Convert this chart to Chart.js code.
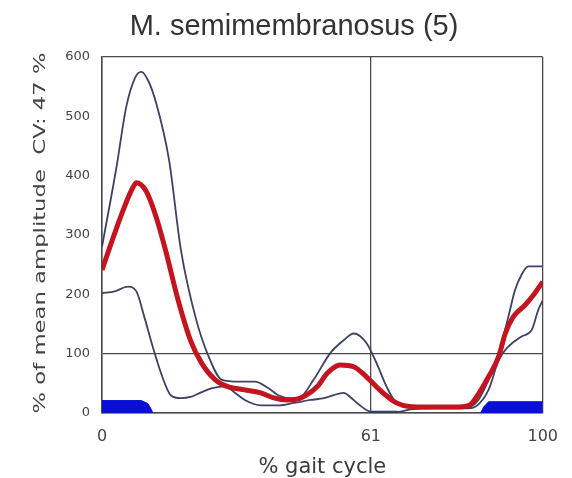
<!DOCTYPE html>
<html>
<head>
<meta charset="utf-8">
<script src="https://cdn.jsdelivr.net/npm/chart.js@4"></script>
<style>
html,body{margin:0;padding:0;background:#fff;}
#wrap{width:572px;height:478px;position:relative;}
</style>
</head>
<body>
<div id="wrap"><canvas id="c" width="572" height="478"></canvas></div>
<script>
const titleText = "M. semimembranosus (5)";
const yTitle = "% of mean amplitude  CV: 47 %";
const xTitle = "% gait cycle";
const xTickValues = [0, 61, 100];
const yTickValues = [0, 100, 200, 300, 400, 500, 600];

const meanX = [0, 1.8, 4.8, 7.0, 7.8, 10, 12.3, 14.5, 17.1, 20.1, 22.6, 25.7, 28.7, 32.4, 36, 39.2, 42.2, 45, 48.9, 51.1, 54, 57.1, 60, 63, 66.8, 69.7, 74, 80, 83.3, 85.5, 87.7, 90, 91.5, 93.3, 96, 98.2, 100];
const meanY = [241, 280, 342, 380, 388, 374, 330, 272, 195, 122, 84, 56, 44, 39, 34, 25, 22, 25, 45, 67, 81, 78, 61, 39, 17, 11, 10, 10, 13, 33, 61, 95, 134, 162, 182, 202, 221];

const upperX = [0, 3.3, 5.5, 7.5, 8.9, 10.5, 12.3, 15.2, 17.9, 21.2, 24.2, 27.2, 31, 34.7, 37.7, 40, 42.8, 45, 48, 51.8, 54.9, 57.1, 60, 62.3, 64.6, 66.8, 69.7, 75, 83, 85.4, 87.7, 90, 92.2, 93.7, 95.2, 96.7, 100];
const upperY = [280, 415, 516, 565, 575, 560, 522, 427, 275, 162, 95, 56, 53, 53, 42, 30, 25, 27, 56, 101, 123, 134, 118, 84, 44, 17, 11, 10, 10, 22, 56, 101, 162, 207, 233, 247, 247];

const lowerX = [0, 2.9, 5.9, 7.8, 9.6, 11.5, 13.4, 15.6, 17.9, 20.1, 22, 25, 28, 30, 32.4, 36, 40, 43.6, 47.3, 50.4, 54.9, 56.3, 58.5, 60, 61, 67, 70, 75, 83, 84.8, 87.7, 90, 92.2, 95.2, 97.5, 99, 100];
const lowerY = [202, 205, 213, 205, 162, 112, 67, 30, 25, 27, 33, 42, 45, 35, 22, 13, 13, 17, 22, 25, 34, 27, 13, 5, 2, 2, 6, 8, 8, 11, 39, 89, 112, 129, 140, 174, 190];

const onset1X = [0, 8.9, 10.4, 11.2, 11.5];
const onset1Y = [21, 21, 16, 6, 0];
const onset2X = [85.9, 86.6, 87.7, 100];
const onset2Y = [0, 10, 19, 19];
const onset3X = [61, 67];
const onset3Y = [3, 3];

function pts(xs, ys){ return xs.map((x,i)=>({x:x, y:ys[i]})); }

const frameColor = '#4a4a4a';
const blue = '#0a0fd6';

const textPlugin = {
  id: 'textPlugin',
  afterDraw(chart){
    const ctx = chart.ctx;
    ctx.save();
    ctx.font = '29px "Liberation Sans", Arial, sans-serif';
    ctx.fillStyle = '#333';
    ctx.textAlign = 'center';
    ctx.textBaseline = 'middle';
    ctx.fillText(titleText, 294, 27);
    ctx.restore();

    const area = chart.chartArea;
    ctx.save();
    ctx.translate(45, (area.top + area.bottom) / 2 - 2);
    ctx.rotate(-Math.PI / 2);
    ctx.scale(1.42, 1);
    ctx.font = '16px "DejaVu Sans", sans-serif';
    ctx.fillStyle = '#444';
    ctx.textAlign = 'center';
    ctx.textBaseline = 'alphabetic';
    ctx.fillText(yTitle, 0, 0);
    ctx.restore();
  }
};

new Chart(document.getElementById('c'), {
  type: 'line',
  data: {
    datasets: [
      {data: pts(meanX, meanY), borderColor: '#c2151f', borderWidth: 5, pointRadius: 0, cubicInterpolationMode: 'monotone', fill: false, order: 0},
      {data: pts(upperX, upperY), borderColor: '#3d4263', borderWidth: 1.8, pointRadius: 0, cubicInterpolationMode: 'monotone', fill: false, order: 1},
      {data: pts(lowerX, lowerY), borderColor: '#3d4263', borderWidth: 1.8, pointRadius: 0, cubicInterpolationMode: 'monotone', fill: false, order: 1},
      {data: pts(onset1X, onset1Y), borderColor: blue, backgroundColor: blue, borderWidth: 1, pointRadius: 0, tension: 0, fill: 'origin', order: 2},
      {data: pts(onset2X, onset2Y), borderColor: blue, backgroundColor: blue, borderWidth: 1, pointRadius: 0, tension: 0, fill: 'origin', order: 2},
      {data: pts(onset3X, onset3Y), borderColor: '#1a1f8a', backgroundColor: '#1a1f8a', borderWidth: 1, pointRadius: 0, tension: 0, fill: 'origin', order: 2}
    ]
  },
  options: {
    responsive: false,
    animation: false,
    devicePixelRatio: 1,
    layout: {padding: {left: 0, right: 25, top: 57, bottom: 0}},
    plugins: {legend: {display: false}, tooltip: {enabled: false}, title: {display: false}},
    scales: {
      x: {
        type: 'linear', min: 0, max: 100,
        afterBuildTicks: s => { s.ticks = xTickValues.map(v => ({value: v})); },
        afterFit: s => { s.height = 65; },
        grid: {drawTicks: false, lineWidth: 1.3, color: c => (c.tick && xTickValues.includes(c.tick.value)) ? frameColor : 'transparent'},
        border: {display: true, color: frameColor, width: 1.5},
        ticks: {padding: 14, color: '#444', font: {family: '"DejaVu Sans", sans-serif', size: 16}, maxRotation: 0, autoSkip: false},
        title: {display: true, text: xTitle, color: '#3a3a3a', font: {family: '"DejaVu Sans", sans-serif', size: 21, lineHeight: 0.8}, padding: {top: 0, bottom: 2}}
      },
      y: {
        type: 'linear', min: 0, max: 600,
        afterBuildTicks: s => { s.ticks = yTickValues.map(v => ({value: v})); },
        afterFit: s => { s.width = 102; },
        grid: {drawTicks: false, lineWidth: 1.3, color: c => (c.tick && (c.tick.value === 0 || c.tick.value === 100 || c.tick.value === 600)) ? frameColor : 'transparent'},
        border: {display: true, color: frameColor, width: 1.5},
        ticks: {padding: 12, color: '#444', font: {family: '"DejaVu Sans", sans-serif', size: 13}}
      }
    }
  },
  plugins: [textPlugin]
});
</script>
</body>
</html>
